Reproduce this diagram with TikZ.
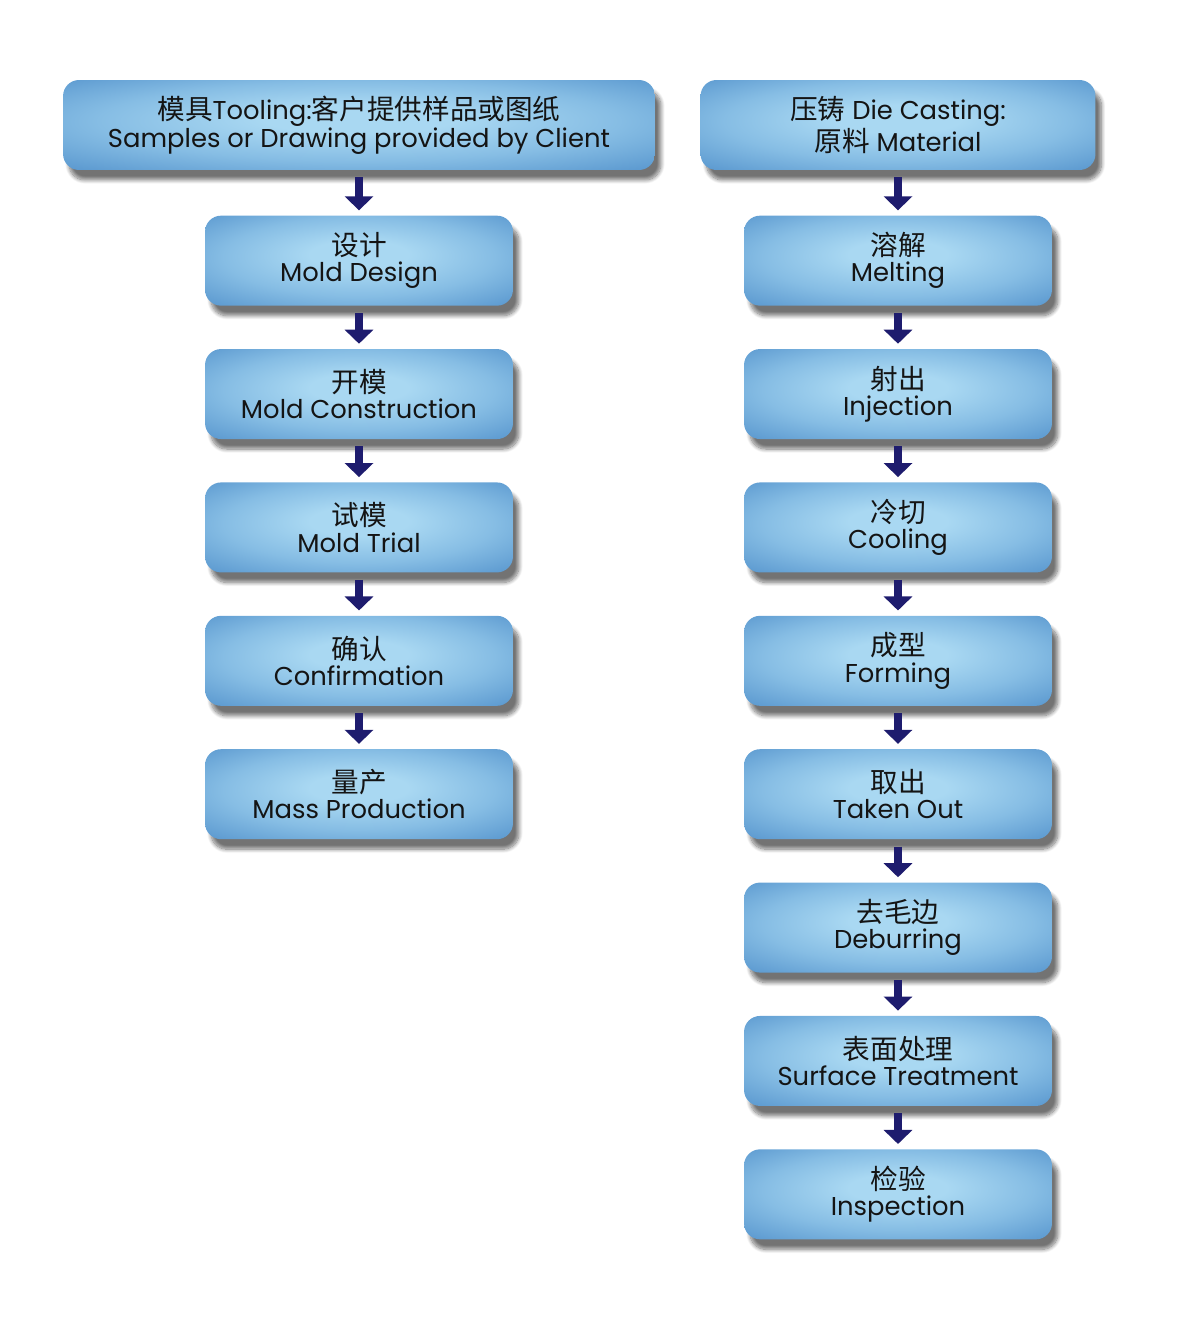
\documentclass[tikz,border=0pt]{standalone}
\usepackage{fontspec}
\setmainfont{Poppins}
\newfontfamily\cjk[Scale=1.07]{Noto Sans CJK SC}
\usetikzlibrary{positioning, shadows.blur, arrows.meta}
\definecolor{boxlight}{HTML}{A9D8F2}
\definecolor{boxmid}{HTML}{86BDE4}
\definecolor{boxdark}{HTML}{5A98CF}
\definecolor{flowblue}{HTML}{1E1C6E}
\pgfdeclareradialshading{stageglow}{\pgfpoint{0bp}{4bp}}{%
  color(0bp)=(boxlight); color(8bp)=(boxlight); color(22bp)=(boxmid);
  color(36bp)=(boxdark); color(50bp)=(boxdark)}
\newlength{\BoxW}
\setlength\BoxW{6.16cm}
\newlength{\Gap}
\setlength\Gap{0.854cm}

\begin{document}
\begin{tikzpicture}[
    x = 0.02cm, y = -0.02cm,
    align = center, font = \fontsize{14.7pt}{14.9pt}\selectfont,
    stage/.style = {
      rectangle, rounded corners = 0.32cm, inner sep = 0pt,
      minimum width = \BoxW, minimum height = 1.8cm,
      shading = stageglow, text = black!92,
      blur shadow = {shadow xshift = 0.12cm, shadow yshift = -0.2cm,
        shadow blur steps = 10, shadow opacity = 55}
    },
    widestage/.style = {
      stage, minimum width = 11.84cm
    },
    headstage/.style = {
      stage, minimum width = 7.9cm
    },
    flow/.style = {
      draw = flowblue, line width = 0.16cm,
      -{Triangle[width = 0.56cm, length = 0.28cm]},
      shorten < = 0.14cm, shorten > = 0.1cm
    },
    ]
\useasboundingbox (0,0) rectangle (1200,1325);

% tooling column
\node  [widestage]  (tooling)  at  (359,125)  {{\cjk 模具}Tooling:{\cjk 客户提供样品或图纸}\\Samples or Drawing provided by Client};
\node  [stage]  (design)  [below = 0.9cm of tooling]  {{\cjk 设计}\\Mold Design};
\node  [stage]  (construct)  [below = \Gap of design]  {{\cjk 开模}\\Mold Construction};
\node  [stage]  (trial)  [below = \Gap of construct]  {{\cjk 试模}\\Mold Trial};
\node  [stage]  (confirm)  [below = \Gap of trial]  {{\cjk 确认}\\Confirmation};
\node  [stage]  (mass)  [below = \Gap of confirm]  {{\cjk 量产}\\Mass Production};

% die casting column
\node  [headstage]  (casting)  at  (898,125)  {{\cjk 压铸} Die Casting:\\{\cjk 原料} Material};
\node  [stage]  (melt)  [below = 0.9cm of casting]  {{\cjk 溶解}\\Melting};
\node  [stage]  (inject)  [below = \Gap of melt]  {{\cjk 射出}\\Injection};
\node  [stage]  (cool)  [below = \Gap of inject]  {{\cjk 冷切}\\Cooling};
\node  [stage]  (form)  [below = \Gap of cool]  {{\cjk 成型}\\Forming};
\node  [stage]  (takeout)  [below = \Gap of form]  {{\cjk 取出}\\Taken Out};
\node  [stage]  (deburr)  [below = \Gap of takeout]  {{\cjk 去毛边}\\Deburring};
\node  [stage]  (surface)  [below = \Gap of deburr]  {{\cjk 表面处理}\\Surface Treatment};
\node  [stage]  (inspect)  [below = \Gap of surface]  {{\cjk 检验}\\Inspection};

\draw  [flow]  (tooling)  to  (design);
\draw  [flow]  (design)  to  (construct);
\draw  [flow]  (construct)  to  (trial);
\draw  [flow]  (trial)  to  (confirm);
\draw  [flow]  (confirm)  to  (mass);

\draw  [flow]  (casting)  to  (melt);
\draw  [flow]  (melt)  to  (inject);
\draw  [flow]  (inject)  to  (cool);
\draw  [flow]  (cool)  to  (form);
\draw  [flow]  (form)  to  (takeout);
\draw  [flow]  (takeout)  to  (deburr);
\draw  [flow]  (deburr)  to  (surface);
\draw  [flow]  (surface)  to  (inspect);
\end{tikzpicture}
\end{document}
